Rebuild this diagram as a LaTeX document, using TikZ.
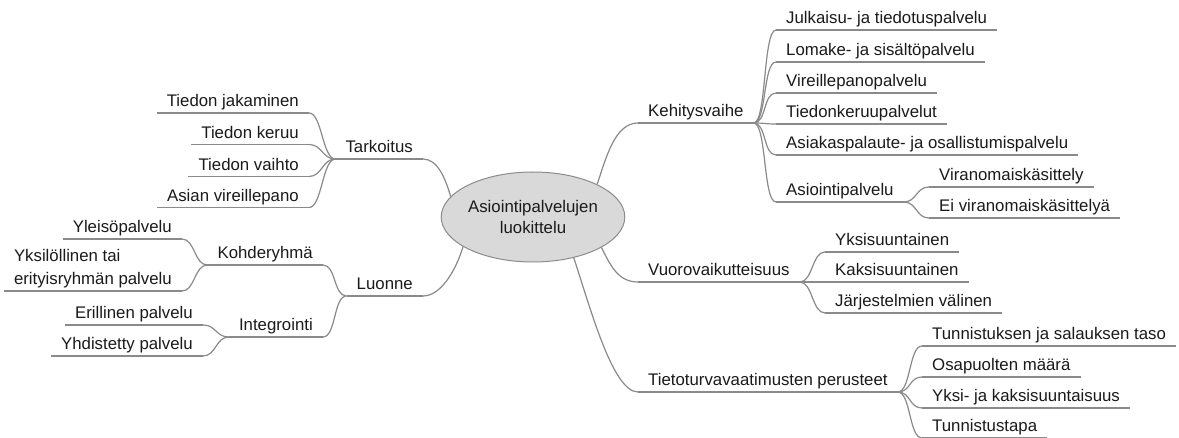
\documentclass[tikz,border=0pt]{standalone}
\usepackage{fontspec}
\setmainfont{Liberation Sans}
\usetikzlibrary{shapes.geometric,backgrounds}
\definecolor{linegray}{HTML}{8A8A8A}
\definecolor{rootfill}{HTML}{D9D9D9}
\definecolor{rootdraw}{HTML}{8C8C8C}
\definecolor{ink}{HTML}{1A1A1A}
\tikzset{
  topic/.style={font=\fontsize{16.8pt}{21pt}\selectfont, text=ink,
    inner xsep=10pt, inner ysep=0pt, text height=12.5pt, text depth=6pt},
  uline/.style={draw=linegray, line width=1.2pt},
  link/.style={draw=linegray, line width=1.2pt},
  sbend/.style={to path={.. controls +(13,0) and +(-13,0) .. (\tikztotarget) \tikztonodes}},
  root/.style={ellipse, draw=rootdraw, fill=rootfill, line width=1pt,
    minimum width=166pt, minimum height=90pt, inner sep=0pt, align=center,
    font=\fontsize{16.8pt}{21pt}\selectfont, text=ink},
}
\begin{document}
\begin{tikzpicture}[x=1pt, y=-1pt]
\useasboundingbox (0,0) rectangle (1179,438);

% central topic
\node[root] (root) at (533,217) {Asiointipalvelujen\\luokittelu};

% left side
\node[topic, anchor=south east] (tark) at (423,159) {Tarkoitus};
\node[topic, anchor=south east] (tj) at (309,113) {Tiedon jakaminen};
\node[topic, anchor=south east] (tk) at (309,144.5) {Tiedon keruu};
\node[topic, anchor=south east] (tv) at (309,176.5) {Tiedon vaihto};
\node[topic, anchor=south east] (av) at (309,207.5) {Asian vireillepano};

\node[topic, anchor=south east] (luon) at (423,296) {Luonne};
\node[topic, anchor=south east] (kohd) at (323,265) {Kohderyhmä};
\node[topic, anchor=south east] (ylei) at (182,239) {Yleisöpalvelu};
\node[topic, anchor=south east, text height=35pt] (yksil) at (182,291)
  {\renewcommand\arraystretch{1.1}\begin{tabular}[b]{@{}l@{}}Yksilöllinen tai\\erityisryhmän palvelu\end{tabular}};
\node[topic, anchor=south east] (integ) at (323,337) {Integrointi};
\node[topic, anchor=south east] (eril) at (203,325) {Erillinen palvelu};
\node[topic, anchor=south east] (yhd) at (203,356) {Yhdistetty palvelu};

% right side
\node[topic, anchor=south west] (kehi) at (638,123) {Kehitysvaihe};
\node[topic, anchor=south west] (k1) at (776,30) {Julkaisu- ja tiedotuspalvelu};
\node[topic, anchor=south west] (k2) at (776,62) {Lomake- ja sisältöpalvelu};
\node[topic, anchor=south west] (k3) at (776,93) {Vireillepanopalvelu};
\node[topic, anchor=south west] (k4) at (776,124) {Tiedonkeruupalvelut};
\node[topic, anchor=south west] (k5) at (776,155) {Asiakaspalaute- ja osallistumispalvelu};
\node[topic, anchor=south west] (k6) at (776,202) {Asiointipalvelu};
\node[topic, anchor=south west] (k61) at (929,187) {Viranomaiskäsittely};
\node[topic, anchor=south west] (k62) at (929,218) {Ei viranomaiskäsittelyä};

\node[topic, anchor=south west] (vuoro) at (638,282) {Vuorovaikutteisuus};
\node[topic, anchor=south west] (v1) at (825,252) {Yksisuuntainen};
\node[topic, anchor=south west] (v2) at (825,282) {Kaksisuuntainen};
\node[topic, anchor=south west] (v3) at (825,313) {Järjestelmien välinen};

\node[topic, anchor=south west] (tieto) at (638,392) {Tietoturvavaatimusten perusteet};
\node[topic, anchor=south west] (t1) at (922,346) {Tunnistuksen ja salauksen taso};
\node[topic, anchor=south west] (t2) at (922,377) {Osapuolten määrä};
\node[topic, anchor=south west] (t3) at (922,408) {Yksi- ja kaksisuuntaisuus};
\node[topic, anchor=south west] (t4) at (922,438) {Tunnistustapa};

\begin{scope}[on background layer]
  \fill[white] (0,0) rectangle (1179,438);

  % underlines of all topics
  \foreach \n in {tark,tj,tk,tv,av,luon,kohd,ylei,yksil,integ,eril,yhd,
                  kehi,k1,k2,k3,k4,k5,k6,k61,k62,vuoro,v1,v2,v3,tieto,t1,t2,t3,t4}
    \draw[uline] (\n.south west) -- (\n.south east);

  % main branches from the central topic
  \draw[link] (root.166) .. controls +(-5,-17) and +(15,0) .. (tark.south east);
  \draw[link] (root.203) .. controls +(-8,26) and +(17,0) .. (luon.south east);
  \draw[link] (root.27) .. controls +(9,-27) and +(-23,0) .. (kehi.south west);
  \draw[link] (root.336) .. controls +(9,18) and +(-20,0) .. (vuoro.south west);
  \draw[link] (root.315) .. controls +(17,52) and +(-25,0) .. (tieto.south west);

  % left sub-branches
  \foreach \c in {tj,tk,tv,av}
    \draw[link] (\c.south east) to[sbend] (tark.south west);
  \foreach \c in {kohd,integ}
    \draw[link] (\c.south east) to[sbend] (luon.south west);
  \foreach \c in {ylei,yksil}
    \draw[link] (\c.south east) to[sbend] (kohd.south west);
  \foreach \c in {eril,yhd}
    \draw[link] (\c.south east) to[sbend] (integ.south west);

  % right sub-branches
  \foreach \c in {k1,k2,k3,k4,k5,k6}
    \draw[link] (kehi.south east) to[sbend] (\c.south west);
  \foreach \c in {k61,k62}
    \draw[link] (k6.south east) to[sbend] (\c.south west);
  \foreach \c in {v1,v2,v3}
    \draw[link] (vuoro.south east) to[sbend] (\c.south west);
  \foreach \c in {t1,t2,t3,t4}
    \draw[link] (tieto.south east) to[sbend] (\c.south west);
\end{scope}
\end{tikzpicture}
\end{document}
